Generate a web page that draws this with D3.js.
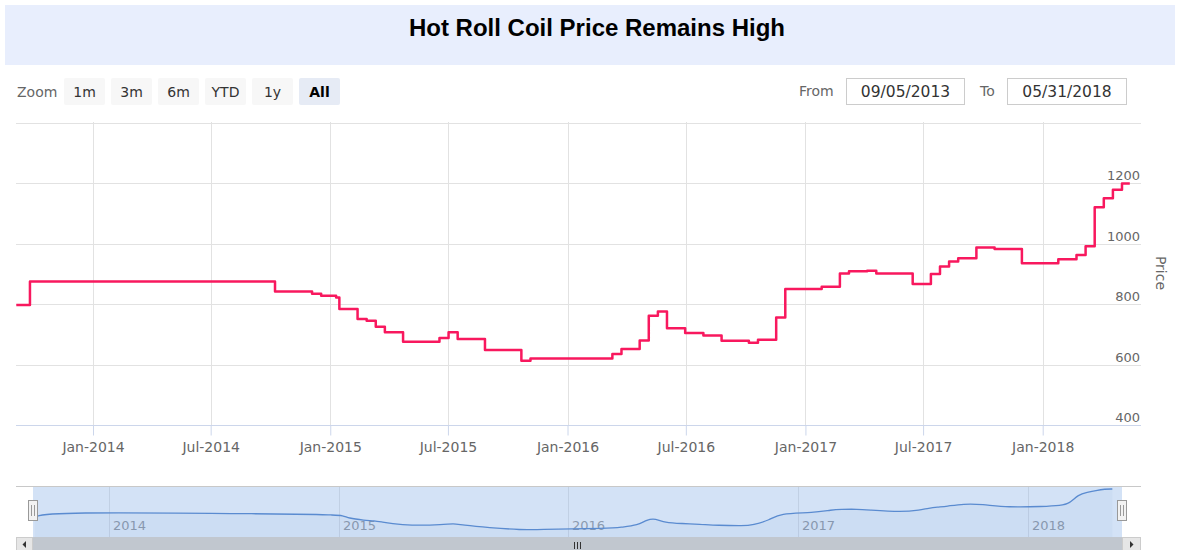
<!DOCTYPE html>
<html><head><meta charset="utf-8">
<script src="https://cdn.jsdelivr.net/npm/d3@7"></script>
<style>body{margin:0;background:#fff}svg{display:block}</style>
</head><body>
<svg id="c" width="1178" height="550"></svg>
<script>
// ---------- data ----------
const titleText = "Hot Roll Coil Price Remains High";
const dates = ["2013-09-05","2013-09-26","2014-10-08","2014-12-04","2014-12-18","2015-01-10","2015-01-15",
  "2015-02-12","2015-02-26","2015-03-12","2015-03-26","2015-04-23","2015-06-18","2015-07-02","2015-07-16",
  "2015-08-27","2015-10-22","2015-11-05","2016-03-10","2016-03-24","2016-04-21","2016-05-05","2016-05-19",
  "2016-06-02","2016-06-30","2016-07-28","2016-08-25","2016-10-06","2016-10-20","2016-11-17","2016-12-01",
  "2017-01-26","2017-02-23","2017-03-09","2017-04-06","2017-04-20","2017-06-15","2017-07-13","2017-07-27",
  "2017-08-10","2017-08-24","2017-09-21","2017-10-19","2017-11-30","2018-01-25","2018-02-22","2018-03-08",
  "2018-03-22","2018-04-05","2018-04-19","2018-05-03","2018-05-15"];
const prices = [797,875,842,835,828,822,784,
  751,745,725,707,676,688,707,685,
  648,613,620,635,652,680,762,776,
  720,705,696,679,672,682,756,850,
  858,902,909,911,902,867,900,925,
  941,952,988,983,936,949,963,992,
  1121,1151,1179,1200,1200];
const yGridTicks = [400,600,800,1000,1200,1400];
const yLabelTicks = [400,600,800,1000,1200];
const xTickDates = ["2014-01-01","2014-07-01","2015-01-01","2015-07-01","2016-01-01","2016-07-01","2017-01-01","2017-07-01","2018-01-01"];
const xTickLabels = ["Jan-2014","Jul-2014","Jan-2015","Jul-2015","Jan-2016","Jul-2016","Jan-2017","Jul-2017","Jan-2018"];
const navYearDates = ["2014-01-01","2015-01-01","2016-01-01","2017-01-01","2018-01-01"];
const navYearLabels = ["2014","2015","2016","2017","2018"];
const zoomButtons = ["1m","3m","6m","YTD","1y","All"];
const selectedButton = "All";
const fromText = "09/05/2013", toText = "05/31/2018";
const domainStart = "2013-09-05", domainEnd = "2018-05-31";
const yAxisTitle = "Price";

// ---------- setup ----------
const parse = d3.timeParse("%Y-%m-%d");
const data = dates.map((d,i)=>({date:parse(d), v:prices[i]}));
const svg = d3.select("#c");
const UI = "'DejaVu Sans', Verdana, sans-serif";

// title
svg.append("rect").attr("x",5).attr("y",5).attr("width",1170).attr("height",60).attr("fill","#e8eefd");
svg.append("text").attr("x",597).attr("y",35.5).attr("text-anchor","middle")
  .attr("font-family","'Liberation Sans', Arial, sans-serif").attr("font-weight","bold").attr("font-size",24)
  .attr("fill","#000").text(titleText);

// range selector
svg.append("text").attr("x",17).attr("y",97).attr("font-family",UI).attr("font-size",14).attr("fill","#666").text("Zoom");
const btn = svg.append("g").selectAll("g").data(zoomButtons).join("g")
  .attr("transform",(d,i)=>`translate(${64+i*47},78)`);
btn.append("rect").attr("width",41).attr("height",27).attr("rx",2)
  .attr("fill",d=>d===selectedButton?"#e6ebf5":"#f7f7f7");
btn.append("text").attr("x",20.5).attr("y",19).attr("text-anchor","middle").attr("font-family",UI)
  .attr("font-size",14).attr("font-weight",d=>d===selectedButton?"bold":"normal")
  .attr("fill",d=>d===selectedButton?"#000":"#333").text(d=>d);

svg.append("text").attr("x",799).attr("y",96).attr("font-family",UI).attr("font-size",14).attr("fill","#666").text("From");
svg.append("rect").attr("x",846.5).attr("y",78.5).attr("width",118).attr("height",26).attr("fill","#fff").attr("stroke","#ccc");
svg.append("text").attr("x",905.5).attr("y",97).attr("text-anchor","middle").attr("font-family",UI).attr("font-size",15.5).attr("fill","#333").text(fromText);
svg.append("text").attr("x",980).attr("y",96).attr("font-family",UI).attr("font-size",14).attr("fill","#666").text("To");
svg.append("rect").attr("x",1007.5).attr("y",78.5).attr("width",119).attr("height",26).attr("fill","#fff").attr("stroke","#ccc");
svg.append("text").attr("x",1067).attr("y",97).attr("text-anchor","middle").attr("font-family",UI).attr("font-size",15.5).attr("fill","#333").text(toText);

// ---------- main plot ----------
const x = d3.scaleTime().domain([parse(domainStart),parse(domainEnd)]).range([16.3,1140.2]);
const y = d3.scaleLinear().domain([400,1400]).range([425,123]);

const grid = svg.append("g");
grid.selectAll("line.h").data(yGridTicks.filter(t=>t>400)).join("line")
  .attr("x1",16).attr("x2",1141).attr("y1",d=>Math.round(y(d))+0.5).attr("y2",d=>Math.round(y(d))+0.5)
  .attr("stroke","#e2e2e2");
grid.selectAll("line.v").data(xTickDates.map(parse)).join("line")
  .attr("x1",d=>Math.round(x(d))+0.5).attr("x2",d=>Math.round(x(d))+0.5).attr("y1",122).attr("y2",425)
  .attr("stroke","#e2e2e2");

// x axis
const xAxis = d3.axisBottom(x).tickValues(xTickDates.map(parse))
  .tickFormat((d,i)=>xTickLabels[i]).tickSize(10).tickSizeOuter(0);
const gx = svg.append("g").attr("transform","translate(0,425.5)").call(xAxis);
gx.select(".domain").attr("stroke","#ccd6eb").attr("d","M16,0H1141");
gx.selectAll(".tick line").attr("stroke","#ccd6eb");
gx.selectAll(".tick text").attr("font-family",UI).attr("font-size",14).attr("fill","#666").attr("y",16).attr("dy",0)
  .attr("dominant-baseline","auto").attr("transform","translate(0,10)");

// y axis labels (right, above grid lines)
const yAxis = d3.axisRight(y).tickValues(yLabelTicks).tickSize(0).tickFormat(d3.format("d"));
const gy = svg.append("g").attr("transform","translate(1140,0)").call(yAxis);
gy.select(".domain").remove();
gy.selectAll(".tick text").attr("font-family",UI).attr("font-size",13).attr("fill","#666")
  .attr("text-anchor","end").attr("x",0).attr("dy",0).attr("y",-3.5);

svg.append("text").attr("transform","translate(1156,273) rotate(90)").attr("text-anchor","middle")
  .attr("font-family",UI).attr("font-size",14).attr("fill","#666").text(yAxisTitle);

// series
const line = d3.line().x(d=>x(d.date)).y(d=>y(d.v)).curve(d3.curveStepAfter);
svg.append("path").datum(data).attr("d",line).attr("fill","none").attr("stroke","#f8185e")
  .attr("stroke-width",2.5).attr("stroke-linejoin","round");

// ---------- navigator ----------
const nx = d3.scaleTime().domain([parse(domainStart),parse(domainEnd)]).range([34.8,1122.4]);
const ny = d3.scaleLinear().domain([d3.min(prices),d3.max(prices)]).range([530,489]);
const nav = svg.append("g");
nav.selectAll("line.ng").data(navYearDates.map(parse)).join("line")
  .attr("x1",d=>Math.round(nx(d))+0.5).attr("x2",d=>Math.round(nx(d))+0.5).attr("y1",486).attr("y2",537)
  .attr("stroke","#e6e6e6");
nav.selectAll("text").data(navYearDates.map(parse)).join("text")
  .attr("x",d=>Math.round(nx(d))+4).attr("y",530).attr("font-family",UI).attr("font-size",13)
  .attr("fill","#999").text((d,i)=>navYearLabels[i]);
// mask (selected range)
nav.append("rect").attr("x",33).attr("y",486).attr("width",1089).attr("height",51).attr("fill","rgba(110,160,225,0.3)");
// navigator series
const nline = d3.line().x(d=>nx(d.date)).y(d=>ny(d.v)).curve(d3.curveBasis);
const narea = d3.area().x(d=>nx(d.date)).y0(537).y1(d=>ny(d.v)).curve(d3.curveBasis);
nav.append("path").datum(data).attr("d",narea).attr("fill","rgba(51,92,173,0.04)");
nav.append("path").datum(data).attr("d",nline).attr("fill","none").attr("stroke","#5a8bd0").attr("stroke-width",1.3);
// outline
nav.append("path").attr("d","M16,486.5H1141").attr("stroke","#c8c8c8").attr("fill","none");
// handles
[33,1122].forEach(hx=>{
  const g = nav.append("g").attr("transform",`translate(${hx},0)`);
  g.append("rect").attr("x",-4.5).attr("y",500.5).attr("width",9).attr("height",20).attr("fill","#f2f2f2").attr("stroke","#999");
  g.append("path").attr("d","M-1.5,505V516M1.5,505V516").attr("stroke","#999");
});
// scrollbar
nav.append("rect").attr("x",16).attr("y",537).attr("width",1125).attr("height",14).attr("fill","#f2f2f2");
nav.append("rect").attr("x",33).attr("y",537).attr("width",1089).attr("height",14).attr("fill","#c1c7cf");
nav.append("path").attr("d","M574.5,542V549M577.5,542V549M580.5,542V549").attr("stroke","#333");
nav.append("rect").attr("x",16.5).attr("y",537.5).attr("width",16).attr("height",13).attr("fill","#e6e6e6").attr("stroke","#ccc");
nav.append("rect").attr("x",1122.5).attr("y",537.5).attr("width",18).attr("height",13).attr("fill","#e6e6e6").attr("stroke","#ccc");
nav.append("path").attr("d","M26,541L22.5,544.5L26,548Z").attr("fill","#333");
nav.append("path").attr("d","M1130,541L1133.5,544.5L1130,548Z").attr("fill","#333");
</script>
</body></html>
